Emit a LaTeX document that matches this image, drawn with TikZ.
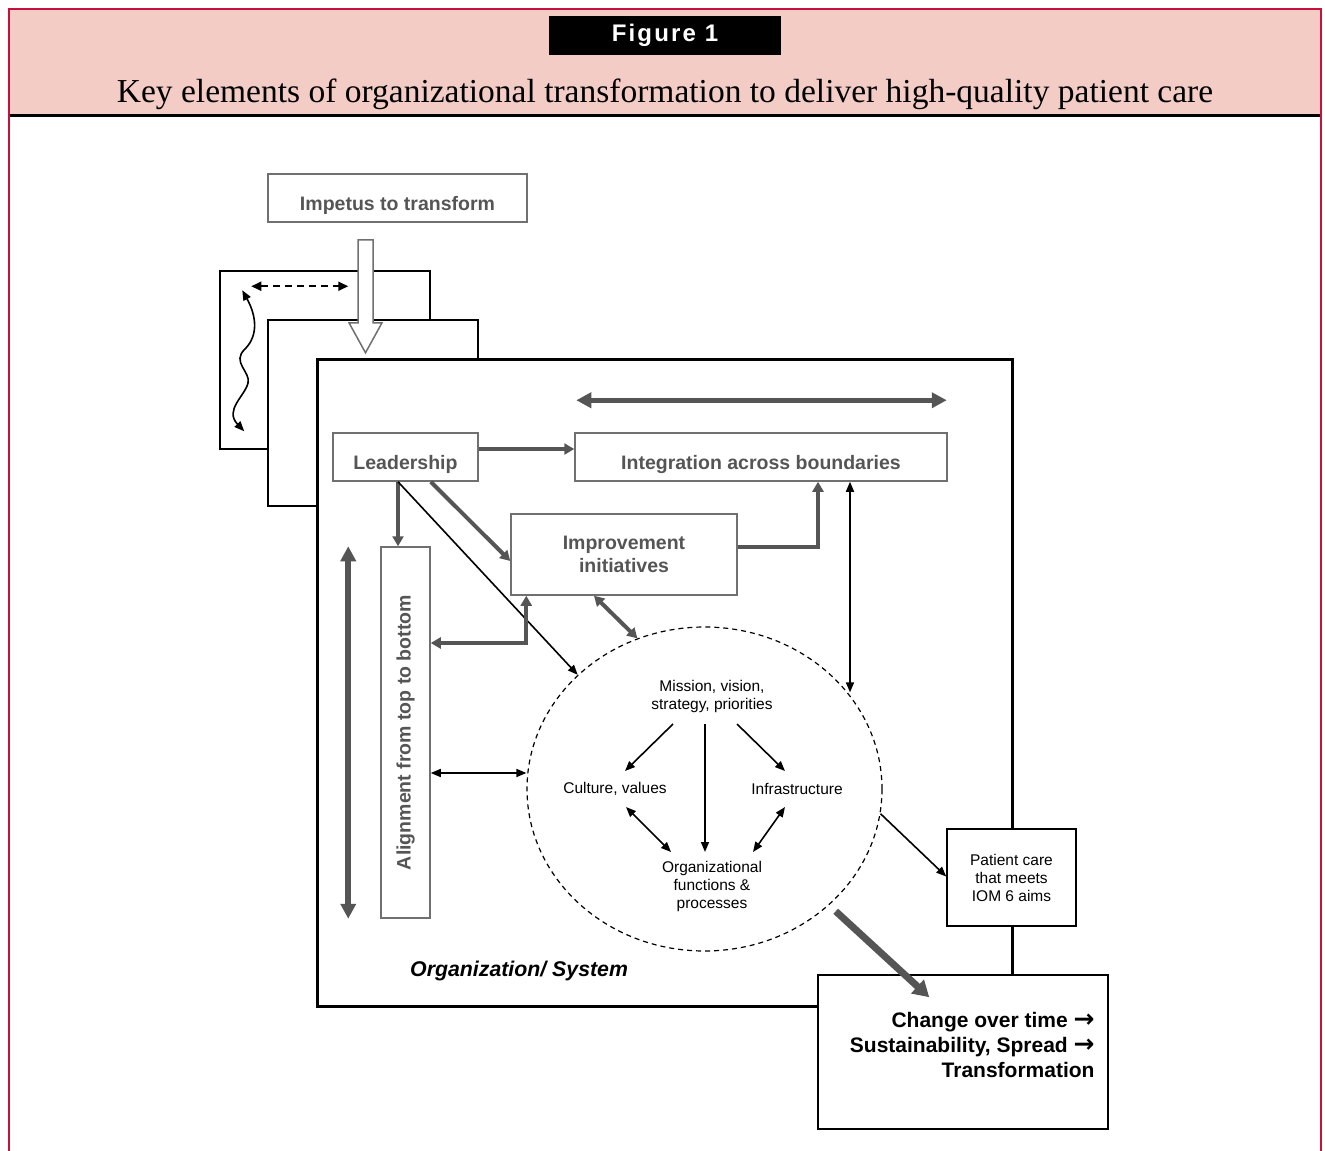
\documentclass[tikz,border=0pt]{standalone}
\usepackage{fontspec}
\setmainfont{Liberation Sans}
\newfontfamily\titlefont{Liberation Serif}
\newfontfamily\figfont[LetterSpace=9]{Liberation Sans}
\newfontfamily\arrowfont{DejaVu Sans}
\usetikzlibrary{arrows.meta,shapes.geometric,calc}
\definecolor{hdrpink}{RGB}{244,204,198}
\definecolor{crimson}{RGB}{200,16,60}
\definecolor{boxgray}{RGB}{112,112,112}
\definecolor{arrgray}{RGB}{85,85,85}
\definecolor{txtgray}{RGB}{85,85,85}
\newcommand{\bigarr}{{\arrowfont\bfseries\fontsize{25}{25}\selectfont\char"2192}}
\begin{document}
\begin{tikzpicture}[x=1pt,y=-1pt,
  graybox/.style={draw=boxgray, line width=1.5pt, fill=white, inner sep=0pt, text=txtgray,
    font=\bfseries\fontsize{19.5}{23}\selectfont},
  blkbox/.style={draw=black, line width=1.5pt, fill=white, inner sep=0pt,
    font=\fontsize{15.5}{18}\selectfont},
  panel/.style={draw=black, line width=1.5pt, fill=white, inner sep=0pt},
  intext/.style={inner sep=0pt, font=\fontsize{15.5}{18}\selectfont, align=center},
  garrow/.style={draw=arrgray, line width=4pt, -{Triangle[length=10pt,width=11pt]}},
  gdouble/.style={draw=arrgray, line width=4pt, {Triangle[length=10pt,width=11pt]}-{Triangle[length=10pt,width=11pt]}},
  gbig/.style={draw=arrgray, line width=5.5pt, {Triangle[length=15pt,width=15pt]}-{Triangle[length=15pt,width=15pt]}},
  barrow/.style={draw=black, line width=1.6pt, -{Triangle[length=10pt,width=8pt]}},
  bdouble/.style={draw=black, line width=1.6pt, {Triangle[length=10pt,width=8pt]}-{Triangle[length=10pt,width=8pt]}}
]
\useasboundingbox (0,0) rectangle (1325,1151);
% header
\fill[hdrpink] (9,9) rectangle (1321,115);
\draw[line width=3pt] (9,115.5) -- (1321,115.5);
\draw[crimson, line width=2.5pt] (9,1151) -- (9,9) -- (1321,9) -- (1321,1151);
\node[fill=black, minimum width=232pt, minimum height=39pt, inner sep=0pt, text=white,
  font=\figfont\bfseries\fontsize{24}{24}\selectfont] (fig) at (665,35.5) {Figure 1};
\node[inner sep=0pt, font=\titlefont\fontsize{33.5}{33.5}\selectfont] (title) at (665,94)
  {Key elements of organizational transformation to deliver high-quality patient care};

% layered panels
\node[panel, minimum width=210pt, minimum height=178pt] (layerA) at (325,360) {};
\node[panel, minimum width=210pt, minimum height=186pt] (layerB) at (373,413) {};
\node[draw=black, line width=3pt, fill=white, inner sep=0pt, minimum width=695pt, minimum height=647pt] (org) at (664.5,682.5) {};

% impetus
\node[graybox, minimum width=259pt, minimum height=48pt, text height=24pt, text depth=0pt] (imp) at (397.5,198) {Impetus to transform};
\draw[draw=boxgray, line width=1.5pt, fill=white]
  ([xshift=-39.5pt,yshift=-17pt]imp.south) -- ([xshift=-24.5pt,yshift=-17pt]imp.south)
  -- ([xshift=-24.5pt,yshift=-100pt]imp.south) -- ([xshift=-15.5pt,yshift=-100pt]imp.south)
  -- ([xshift=-32pt,yshift=-130pt]imp.south) -- ([xshift=-48.5pt,yshift=-100pt]imp.south)
  -- ([xshift=-39.5pt,yshift=-100pt]imp.south) -- cycle;

% dashed and wavy arrows in back panel
\coordinate (d1) at ([xshift=32pt,yshift=-16pt]layerA.north west);
\coordinate (d2) at ([xshift=129pt,yshift=-16pt]layerA.north west);
\draw[line width=2pt, dash pattern=on 7pt off 5pt, {Triangle[length=10pt,width=9pt]}-{Triangle[length=10pt,width=9pt]}] (d1) -- (d2);
\coordinate (w1) at ([xshift=23pt,yshift=-20pt]layerA.north west);
\coordinate (w2) at ([xshift=25pt,yshift=-161pt]layerA.north west);
\draw[line width=1.6pt, {Triangle[length=10pt,width=8pt]}-{Triangle[length=10pt,width=8pt]}]
  (w1) .. controls (256,315) and (259,335) .. (245,349)
  .. controls (231,362) and (251,372) .. (248,383)
  .. controls (245,396) and (224,410) .. (w2);

% main boxes
\node[graybox, minimum width=145pt, minimum height=48pt, text height=24pt, text depth=0pt] (lead) at (405.5,457) {Leadership};
\node[graybox, minimum width=372pt, minimum height=48pt, text height=24pt, text depth=0pt] (integ) at (761,457) {Integration across boundaries};
\node[graybox, minimum width=226pt, minimum height=81pt, align=center] (impr) at (624,554.5) {Improvement\\initiatives};
\node[graybox, minimum width=371pt, minimum height=49pt, rotate=90] (align) at (405.5,732.5) {Alignment from top to bottom};

% circle
\node[ellipse, draw=black, line width=1.2pt, dash pattern=on 5pt off 4pt, minimum width=355pt, minimum height=324pt, inner sep=0pt] (circle) at (704.5,789) {};
\node[intext] (mission) at (712,696) {Mission, vision,\\strategy, priorities};
\node[intext] (culture) at (615,789) {Culture, values};
\node[intext] (infra) at (797,789) {Infrastructure};
\node[intext] (orgf) at (712,886) {Organizational\\functions \&\\processes};

\draw[barrow] ([xshift=-39pt,yshift=-28pt]mission.center) -- ([xshift=10pt,yshift=18pt]culture.center);
\draw[barrow] ([xshift=-7pt,yshift=-28pt]mission.center) -- ([xshift=-7pt,yshift=34pt]orgf.center);
\draw[barrow] ([xshift=25pt,yshift=-28pt]mission.center) -- ([xshift=-12pt,yshift=18pt]infra.center);
\draw[bdouble] ([xshift=11pt,yshift=-18pt]culture.center) -- ([xshift=-41pt,yshift=34pt]orgf.center);
\draw[bdouble] ([xshift=-12pt,yshift=-18pt]infra.center) -- ([xshift=41pt,yshift=34pt]orgf.center);

% patient and change boxes
\node[blkbox, minimum width=129pt, minimum height=97pt, align=center] (patient) at (1011.5,877.5) {Patient care\\that meets\\IOM 6 aims};
\node[panel, minimum width=290pt, minimum height=154pt] (change) at (963,1052) {};
\node[anchor=east, inner sep=0pt, align=right, font=\bfseries\fontsize{21}{25}\selectfont] (changetxt)
  at ([xshift=-14pt,yshift=7pt]change.east) {Change over time \bigarr\\Sustainability, Spread \bigarr\\Transformation};

\node[inner sep=0pt, anchor=west, font=\bfseries\itshape\fontsize{21.3}{21.3}\selectfont] (orglabel) at (410,971) {Organization/ System};

% connectors
\draw[garrow] ([yshift=8pt]lead.east) -- ([yshift=8pt]integ.west);
\draw[gbig] ([xshift=2pt,yshift=32pt]integ.north west) -- ([xshift=-1pt,yshift=32pt]integ.north east);
\draw[garrow] ([xshift=-7.5pt]lead.south) -- ([xshift=-7.5pt]align.east);
\draw[garrow] ([xshift=-48pt]lead.south east) -- ([yshift=-6.5pt]impr.west);
\draw[barrow] ([xshift=-7.5pt]lead.south) -- (circle.138.6);
\draw[gdouble] ([xshift=-30pt]impr.south) -- (circle.114);
\draw[garrow] ([yshift=7.5pt]impr.east) -| ([xshift=57pt]integ.south);
\draw[gdouble] ([xshift=16pt]impr.south west) |- ([yshift=89.5pt]align.south);
\coordinate (ix) at ([xshift=89pt]integ.south);
\draw[bdouble] (ix) -- (ix |- circle.34);
\coordinate (al) at ([yshift=-40.5pt]align.south);
\draw[bdouble] (al) -- (circle.west |- al);
\draw[gbig, line width=6pt] ([xshift=-32pt]align.north east) -- ([xshift=-32pt]align.north west);
\draw[barrow] (circle.-8) -- ([yshift=1pt]patient.west);
\draw[draw=arrgray, line width=7pt, shorten <=9pt, -{Triangle[length=16pt,width=18pt]}] (circle.-43) -- ([xshift=112pt,yshift=-23pt]change.north west);
\end{tikzpicture}
\end{document}
